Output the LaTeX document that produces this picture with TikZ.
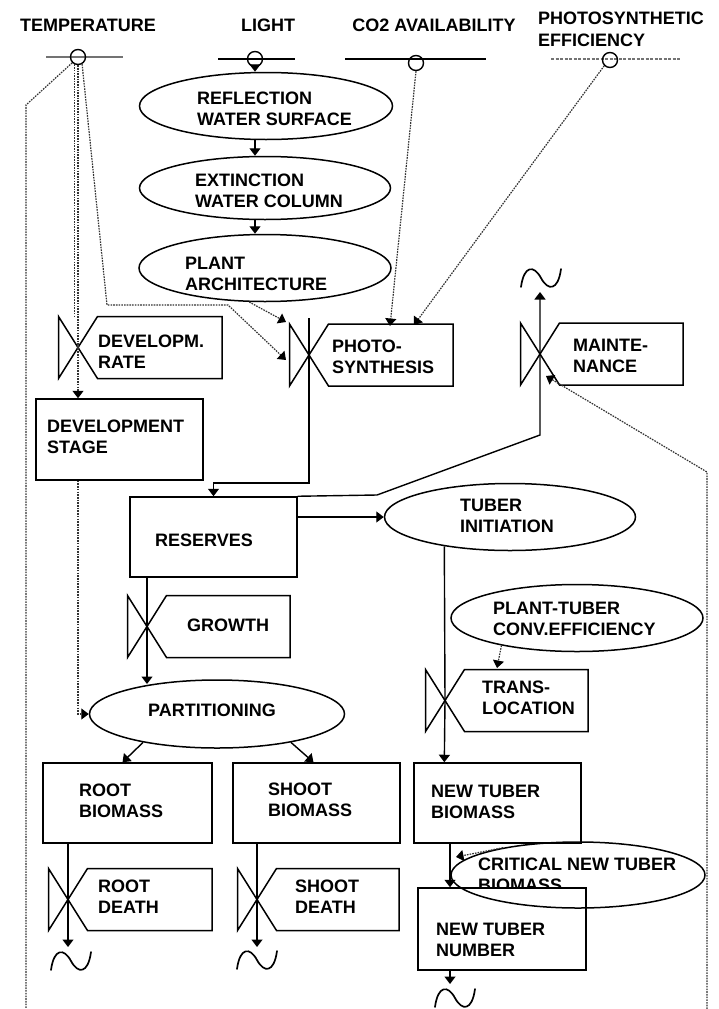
\documentclass[tikz,border=0pt]{standalone}
\usepackage{fontspec}
\setmainfont{Liberation Sans}
\usetikzlibrary{arrows.meta,shapes.geometric,calc}

\tikzset{
  lbl/.style={font=\bfseries\fontsize{18}{21}\selectfont, inner sep=0pt, align=left, anchor=west},
  ttl/.style={font=\bfseries\fontsize{18}{22}\selectfont, inner sep=0pt, align=left},
  stock/.style={draw, line width=1.5pt, rectangle, inner sep=0pt},
  aux/.style={draw, line width=1.5pt, ellipse, inner sep=0pt},
  pipe/.style={line width=1.4pt},
  info/.style={line width=1.2pt, black!80, dash pattern=on 1.6pt off 1.1pt},
  tip/.style={-{Triangle[width=11pt,length=7.5pt,color=black]}},
  src/.style={draw, circle, line width=1.4pt, minimum size=15pt, inner sep=0pt},
  valveline/.style={line width=1.5pt, line join=miter},
  sink/.style={line width=1.7pt, line cap=round},
  bar/.style={line width=1.4pt},
}

% flow valve with its attached label box: name, centre x, centre y, right edge of box
\newcommand\valvebox[4]{%
  \coordinate (#1) at (#2,#3);
  \draw[valveline] (#2-19.5,#3-31) -- (#2-19.5,#3+31) -- (#2+19.5,#3-31)
    -- (#4,#3-31) -- (#4,#3+31) -- (#2+19.5,#3+31) -- cycle;
}

% sink symbol (wave) centred at x, y
\newcommand\sinkwave[2]{%
  \draw[sink] (#1-20,#2+9) .. controls (#1-17,#2-13) and (#1-7,#2-13) .. (#1,#2)
    .. controls (#1+7,#2+13) and (#1+17,#2+13) .. (#1+20,#2-9);
}

\begin{document}
\begin{tikzpicture}[x=1pt,y=-1pt]
\fill[white] (0,0) rectangle (718,1009);
\useasboundingbox (0,0) rectangle (718,1009);

% ---- driving variables
\node[ttl] (tTemp) at (88,25) {TEMPERATURE};
\node[ttl] (tLight) at (268,25) {LIGHT};
\node[ttl] (tCO2) at (434,25) {CO2 AVAILABILITY};
\node[ttl, anchor=west] (tPE) at (538,29) {PHOTOSYNTHETIC\\EFFICIENCY};

\draw[bar, black!55] (46,57) -- (123,57);
\node[src] (temp) at (78,57) {};
\draw[bar] (218,59) -- (295,59);
\node[src] (light) at (255,59) {};
\draw[bar] (345,59) -- (486,59);
\node[src] (co2) at (416,63) {};
\draw[bar, black!55, dash pattern=on 3pt off 1.5pt] (551,59) -- (681,59);
\node[src] (pe) at (610,60) {};

% ---- light interception chain
\node[aux, minimum width=253pt, minimum height=67pt] (reflect) at (266,106) {};
\node[lbl] (reflectT) at (197,109) {REFLECTION\\WATER SURFACE};
\node[aux, minimum width=251pt, minimum height=63pt] (extinct) at (265,188) {};
\node[lbl] (extinctT) at (195,191) {EXTINCTION\\WATER COLUMN};
\node[aux, minimum width=252pt, minimum height=67pt] (archi) at (265,268) {};
\node[lbl] (archiT) at (185,274) {PLANT\\ARCHITECTURE};

% ---- rates in the upper part
\valvebox{devrate}{78}{347.5}{222}
\node[lbl] (devrateT) at (98,352) {DEVELOPM.\\RATE};
\valvebox{photov}{309}{355}{453}
\node[lbl] (photoT) at (332,357) {PHOTO-\\SYNTHESIS};
\valvebox{maintv}{540}{354}{683}
\node[lbl] (maintT) at (573,356) {MAINTE-\\NANCE};

% ---- states and auxiliaries
\node[stock, minimum width=167pt, minimum height=81pt] (devstage) at (119.5,439.5) {};
\node[lbl] (devstageT) at (47,437) {DEVELOPMENT\\STAGE};
\node[stock, minimum width=167pt, minimum height=80pt] (reserves) at (213.5,537) {};
\node[lbl] (reservesT) at (155,540) {RESERVES};
\node[aux, minimum width=251pt, minimum height=67pt] (tuberinit) at (510,517) {};
\node[lbl] (tuberinitT) at (460,516) {TUBER\\INITIATION};

\valvebox{growthv}{147}{626.5}{290}
\node[lbl] (growthT) at (187,625) {GROWTH};
\node[aux, minimum width=252pt, minimum height=67pt] (ptce) at (577,618) {};
\node[lbl] (ptceT) at (493,619) {PLANT-TUBER\\CONV.EFFICIENCY};
\valvebox{translv}{445}{700.5}{588}
\node[lbl] (translT) at (482,698) {TRANS-\\LOCATION};

\node[aux, minimum width=255pt, minimum height=68pt] (partition) at (217,714) {};
\node[lbl] (partitionT) at (148,710) {PARTITIONING};

\node[stock, minimum width=169pt, minimum height=80pt] (rootb) at (127.5,803) {};
\node[lbl] (rootbT) at (79,801) {ROOT\\BIOMASS};
\node[stock, minimum width=167pt, minimum height=80pt] (shootb) at (316.5,803) {};
\node[lbl] (shootbT) at (268,800) {SHOOT\\BIOMASS};
\node[stock, minimum width=167pt, minimum height=80pt] (ntb) at (497.5,803) {};
\node[lbl] (ntbT) at (431,802) {NEW TUBER\\BIOMASS};

\valvebox{rootdv}{68}{899.5}{212}
\node[lbl] (rootdT) at (98,897) {ROOT\\DEATH};
\valvebox{shootdv}{257}{899.5}{399}
\node[lbl] (shootdT) at (295,897) {SHOOT\\DEATH};

\node[lbl] (criticalT) at (478,875) {CRITICAL NEW TUBER\\BIOMASS};
\node[stock, fill=white, minimum width=168pt, minimum height=82pt] (ntn) at (502,929) {};
\node[lbl] (ntnT) at (436,940) {NEW TUBER\\NUMBER};
\node[aux, minimum width=254pt, minimum height=66pt] (critical) at (578,875) {};

% ---- information links
\coordinate (leftTurn) at (26,105);
\coordinate (leftEnd) at (26,1009);
\draw[info] (temp.225) -- (leftTurn) -- (leftEnd);
\coordinate (devrateTop) at (75,316);
\draw[info] (temp.245) -- (temp.245 |- devrateTop);
\draw[info,tip] (temp.south) -- (devrate) -- (temp.south |- devstage.north);
\coordinate (tempBend1) at (107,305);
\coordinate (tempBend2) at (228,305);
\coordinate (photoIn2) at (286,360);
\draw[info,tip] (temp.300) -- (tempBend1) -- (tempBend2) -- (photoIn2);
\coordinate (photoIn1) at (286,322);
\draw[info,tip] (archi.245) -- (photoIn1);
\coordinate (co2In) at (390,326);
\draw[info,tip] (co2.south) -- (co2In);
\coordinate (peIn) at (414,325);
\draw[info,tip] (pe.225) -- (peIn);
\coordinate (rightEnd) at (707,1009);
\coordinate (rightTurn) at (707,472);
\coordinate (maintIn) at (546,376);
\draw[info,tip] (rightEnd) -- (rightTurn) -- (maintIn);
\draw[info,tip] (devstage.south -| temp) |- (partition.west);
\coordinate (translIn) at (497,668);
\draw[info,tip] (ptce.200) -- (translIn);
\coordinate (critIn) at (456,857);
\draw[info,tip] (critical.160) -- (critIn);

% ---- light flow
\draw[pipe,tip] (light.south) -- (light |- reflect.north);
\draw[pipe,tip] (reflect.south -| light) -- (extinct.north -| light);
\draw[pipe,tip] (extinct.south -| light) -- (archi.north -| light);

% ---- material flows
\coordinate (photoTop) at (309,318);
\coordinate (photoBend) at (309,483);
\draw[pipe,tip] (photoTop) -- (photov) -- (photoBend) -| (reserves.north);

\coordinate (mk1) at (377,495);
\coordinate (mk2) at (540,435);
\coordinate (maintOut) at (540,292);
\draw[pipe,tip] (reserves.north east) -- (mk1) -- (mk2) -- (maintv) -- (maintOut);
\sinkwave{541}{278}

\draw[pipe,tip] (reserves.east |- tuberinit.west) -- (tuberinit.west);
\draw[pipe,tip] (tuberinit.204) -- (translv) -- (tuberinit.204 |- ntb.north);

\coordinate (growthIn) at (147,684);
\draw[pipe,tip] (reserves.south -| growthv) -- (growthv) -- (growthIn);

\draw[pipe,tip] (partition.201) -- ($(rootb.north)+(-5,0)$);
\draw[pipe,tip] (partition.339) -- ($(shootb.north)+(-3,0)$);

\coordinate (rootOut) at (68,947);
\draw[pipe,tip] (rootb.south -| rootdv) -- (rootdv) -- (rootOut);
\sinkwave{71}{961}
\coordinate (shootOut) at (257,947);
\draw[pipe,tip] (shootb.south -| shootdv) -- (shootdv) -- (shootOut);
\sinkwave{257}{960}

\coordinate (tuberx) at (450,850);
\draw[pipe,tip] (ntb.south -| tuberx) -- (ntn.north -| tuberx);
\coordinate (numOut) at (450,984);
\draw[pipe,tip] (ntn.south -| tuberx) -- (numOut);
\sinkwave{455}{998}
\end{tikzpicture}
\end{document}
